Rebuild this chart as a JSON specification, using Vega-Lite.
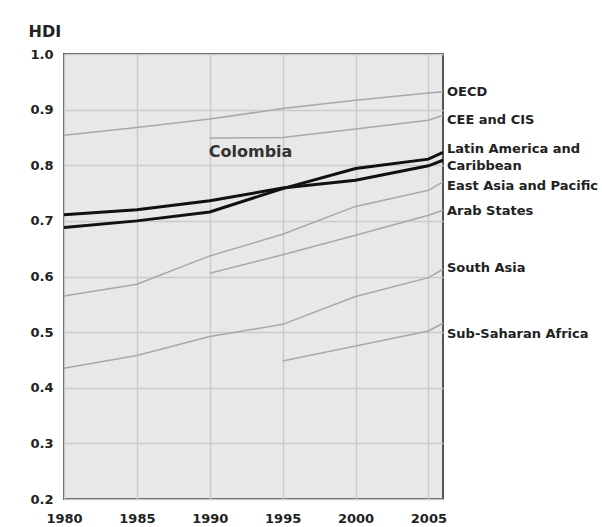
{
  "$schema": "https://vega.github.io/schema/vega-lite/v6.json",
  "width": 379,
  "height": 445,
  "autosize": "none",
  "padding": {"left": 64, "top": 54, "right": 159, "bottom": 28},
  "background": "white",
  "config": {
    "view": {"fill": "#e8e8e8", "stroke": "#555555", "strokeWidth": 2},
    "font": "DejaVu Sans"
  },
  "datasets": {
    "series": [
      {"region": "OECD", "kind": "region", "year": 1980, "hdi": 0.854},
      {"region": "OECD", "kind": "region", "year": 1985, "hdi": 0.868},
      {"region": "OECD", "kind": "region", "year": 1990, "hdi": 0.883},
      {"region": "OECD", "kind": "region", "year": 1995, "hdi": 0.902},
      {"region": "OECD", "kind": "region", "year": 2000, "hdi": 0.917},
      {"region": "OECD", "kind": "region", "year": 2005, "hdi": 0.930},
      {"region": "OECD", "kind": "region", "year": 2006, "hdi": 0.932},
      {"region": "CEE and CIS", "kind": "region", "year": 1990, "hdi": 0.849},
      {"region": "CEE and CIS", "kind": "region", "year": 1995, "hdi": 0.850},
      {"region": "CEE and CIS", "kind": "region", "year": 2000, "hdi": 0.865},
      {"region": "CEE and CIS", "kind": "region", "year": 2005, "hdi": 0.881},
      {"region": "CEE and CIS", "kind": "region", "year": 2006, "hdi": 0.890},
      {"region": "East Asia and Pacific", "kind": "region", "year": 1980, "hdi": 0.565},
      {"region": "East Asia and Pacific", "kind": "region", "year": 1985, "hdi": 0.586},
      {"region": "East Asia and Pacific", "kind": "region", "year": 1990, "hdi": 0.637},
      {"region": "East Asia and Pacific", "kind": "region", "year": 1995, "hdi": 0.676},
      {"region": "East Asia and Pacific", "kind": "region", "year": 2000, "hdi": 0.726},
      {"region": "East Asia and Pacific", "kind": "region", "year": 2005, "hdi": 0.755},
      {"region": "East Asia and Pacific", "kind": "region", "year": 2006, "hdi": 0.770},
      {"region": "Arab States", "kind": "region", "year": 1990, "hdi": 0.606},
      {"region": "Arab States", "kind": "region", "year": 1995, "hdi": 0.639},
      {"region": "Arab States", "kind": "region", "year": 2000, "hdi": 0.674},
      {"region": "Arab States", "kind": "region", "year": 2005, "hdi": 0.710},
      {"region": "Arab States", "kind": "region", "year": 2006, "hdi": 0.719},
      {"region": "South Asia", "kind": "region", "year": 1980, "hdi": 0.435},
      {"region": "South Asia", "kind": "region", "year": 1985, "hdi": 0.458},
      {"region": "South Asia", "kind": "region", "year": 1990, "hdi": 0.492},
      {"region": "South Asia", "kind": "region", "year": 1995, "hdi": 0.514},
      {"region": "South Asia", "kind": "region", "year": 2000, "hdi": 0.564},
      {"region": "South Asia", "kind": "region", "year": 2005, "hdi": 0.598},
      {"region": "South Asia", "kind": "region", "year": 2006, "hdi": 0.613},
      {"region": "Sub-Saharan Africa", "kind": "region", "year": 1995, "hdi": 0.448},
      {"region": "Sub-Saharan Africa", "kind": "region", "year": 2000, "hdi": 0.475},
      {"region": "Sub-Saharan Africa", "kind": "region", "year": 2005, "hdi": 0.502},
      {"region": "Sub-Saharan Africa", "kind": "region", "year": 2006, "hdi": 0.516},
      {"region": "Latin America and Caribbean", "kind": "focus", "year": 1980, "hdi": 0.711},
      {"region": "Latin America and Caribbean", "kind": "focus", "year": 1985, "hdi": 0.720},
      {"region": "Latin America and Caribbean", "kind": "focus", "year": 1990, "hdi": 0.736},
      {"region": "Latin America and Caribbean", "kind": "focus", "year": 1995, "hdi": 0.759},
      {"region": "Latin America and Caribbean", "kind": "focus", "year": 2000, "hdi": 0.773},
      {"region": "Latin America and Caribbean", "kind": "focus", "year": 2005, "hdi": 0.799},
      {"region": "Latin America and Caribbean", "kind": "focus", "year": 2006, "hdi": 0.809},
      {"region": "Colombia", "kind": "focus", "year": 1980, "hdi": 0.688},
      {"region": "Colombia", "kind": "focus", "year": 1985, "hdi": 0.700},
      {"region": "Colombia", "kind": "focus", "year": 1990, "hdi": 0.716},
      {"region": "Colombia", "kind": "focus", "year": 1995, "hdi": 0.758},
      {"region": "Colombia", "kind": "focus", "year": 2000, "hdi": 0.794},
      {"region": "Colombia", "kind": "focus", "year": 2005, "hdi": 0.811},
      {"region": "Colombia", "kind": "focus", "year": 2006, "hdi": 0.823}
    ],
    "labels": [
      {"label": ["OECD"], "hdi": 0.932},
      {"label": ["CEE and CIS"], "hdi": 0.881},
      {"label": ["Latin America and", "Caribbean"], "hdi": 0.830},
      {"label": ["East Asia and Pacific"], "hdi": 0.763},
      {"label": ["Arab States"], "hdi": 0.718},
      {"label": ["South Asia"], "hdi": 0.615},
      {"label": ["Sub-Saharan Africa"], "hdi": 0.496}
    ],
    "country": [
      {"label": "Colombia", "year": 1992.8, "hdi": 0.824}
    ]
  },
  "layer": [
    {
      "data": {"name": "series"},
      "transform": [{"filter": "datum.kind === 'region'"}],
      "mark": {"type": "line", "color": "#a8a8a8", "strokeWidth": 1.5},
      "encoding": {
        "x": {
          "field": "year", "type": "quantitative",
          "scale": {"domain": [1980, 2006], "nice": false, "zero": false},
          "axis": {
            "values": [1980, 1985, 1990, 1995, 2000, 2005],
            "format": "d", "title": null,
            "domain": false, "ticks": false,
            "grid": true, "gridColor": "#cacaca", "gridWidth": 1.5,
            "labelFont": "DejaVu Sans", "labelFontSize": 13, "labelFontWeight": "bold",
            "labelColor": "#222222", "labelPadding": 13, "labelFlush": false
          }
        },
        "y": {
          "field": "hdi", "type": "quantitative",
          "scale": {"domain": [0.2, 1.0], "nice": false, "zero": false},
          "axis": {
            "values": [0.2, 0.3, 0.4, 0.5, 0.6, 0.7, 0.8, 0.9, 1.0],
            "format": ".1f",
            "title": "HDI", "titleAngle": 0, "titleAlign": "left", "titleBaseline": "middle",
            "titleX": -36, "titleY": -23, "titleFont": "DejaVu Sans", "titleFontSize": 16,
            "titleFontWeight": "bold", "titleColor": "#222222",
            "domain": false, "ticks": false,
            "grid": true, "gridColor": "#cacaca", "gridWidth": 1.5,
            "labelFont": "DejaVu Sans", "labelFontSize": 13, "labelFontWeight": "bold",
            "labelColor": "#222222", "labelPadding": 11
          }
        },
        "detail": {"field": "region"}
      }
    },
    {
      "data": {"name": "series"},
      "transform": [{"filter": "datum.kind === 'focus'"}],
      "mark": {"type": "line", "color": "#111111", "strokeWidth": 3},
      "encoding": {
        "x": {"field": "year", "type": "quantitative"},
        "y": {"field": "hdi", "type": "quantitative"},
        "detail": {"field": "region"}
      }
    },
    {
      "data": {"name": "labels"},
      "mark": {"type": "text", "align": "left", "baseline": "middle", "dx": 4,
               "font": "DejaVu Sans", "fontSize": 13, "fontWeight": "bold",
               "color": "#222222", "lineHeight": 17, "clip": false},
      "encoding": {
        "x": {"datum": 2006, "type": "quantitative"},
        "y": {"field": "hdi", "type": "quantitative"},
        "text": {"field": "label"}
      }
    },
    {
      "data": {"name": "country"},
      "mark": {"type": "text", "align": "center", "baseline": "middle",
               "font": "DejaVu Sans", "fontSize": 16, "fontWeight": "bold", "color": "#333333"},
      "encoding": {
        "x": {"field": "year", "type": "quantitative"},
        "y": {"field": "hdi", "type": "quantitative"},
        "text": {"field": "label"}
      }
    }
  ]
}
